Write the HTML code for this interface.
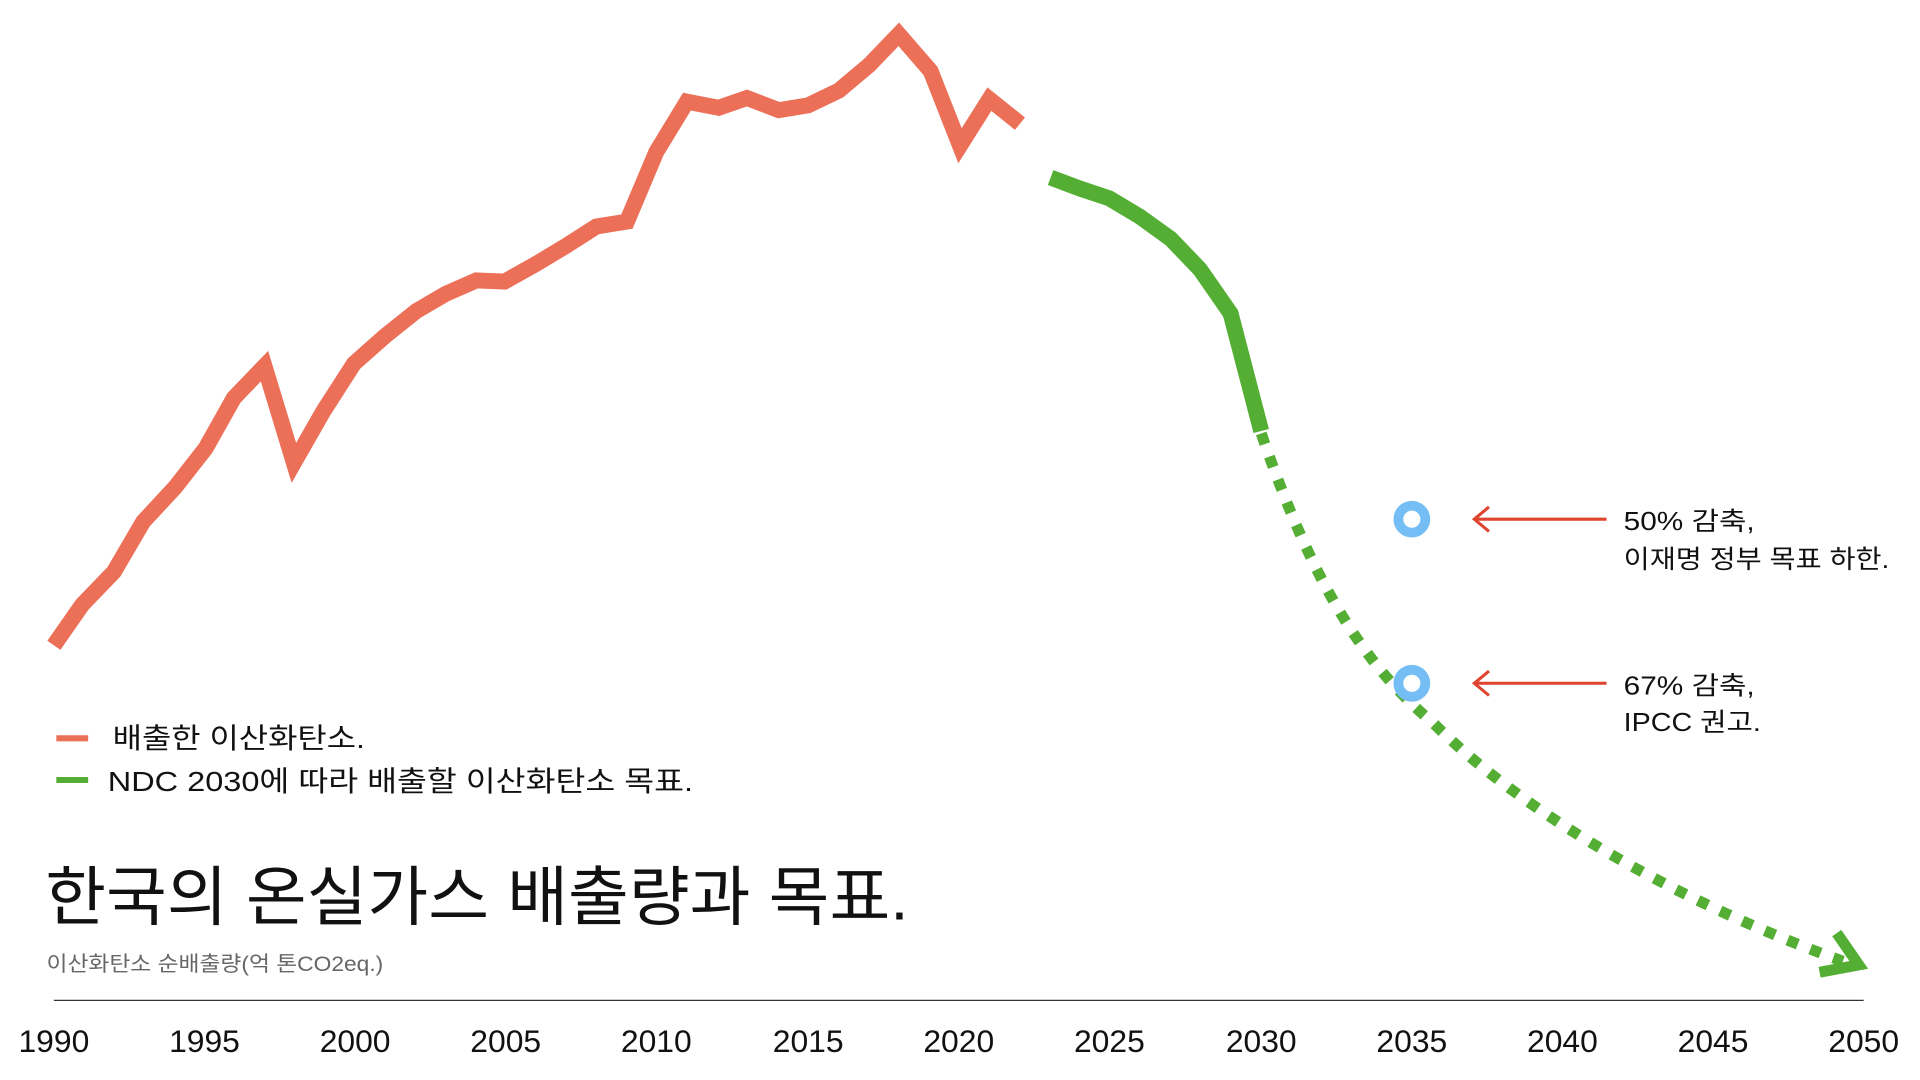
<!DOCTYPE html>
<html><head><meta charset="utf-8"><style>
html,body{margin:0;padding:0;background:#fff;}
svg{display:block;}
text{font-family:"Liberation Sans","Noto Sans CJK KR",sans-serif;}
</style></head><body>
<svg width="1920" height="1080" viewBox="0 0 1568 882" xmlns="http://www.w3.org/2000/svg">
<rect width="1568" height="882" fill="#fff"/>
<polyline fill="none" stroke="#ec6f58" stroke-width="13" stroke-linejoin="miter"
points="44,527 67,494 93,467 117,426 143,398 168,366 191,325 216,299 240,378 264,336 289,297 315,274 340,254 364,240 389,229 412,230 437,216 462,201 487,185 512,181 536,124 561,83 587,88 610,80 636,90 660,86 685,74 710,53 734,28 760,58 784,119 808,81 833,101"/>
<polyline fill="none" stroke="#54ae34" stroke-width="13"
points="858,145 882,154 906,162 931,177 956,195 980,220 1005,256 1030,352"/>
<path d="M1030,354 C1070,470 1110,540 1170,590 C1250,670 1380,740 1505,785" fill="none" stroke="#54ae34" stroke-width="9" stroke-dasharray="9 11"/>
<path d="M1500,762 L1518,788 L1486,794" fill="none" stroke="#54ae34" stroke-width="9"/>
<circle cx="1153" cy="424" r="11" fill="none" stroke="#74bdf5" stroke-width="8"/>
<circle cx="1153" cy="558" r="11" fill="none" stroke="#74bdf5" stroke-width="8"/>
<path d="M1206,424 L1312,424 M1216,414 L1204,424 L1216,434" fill="none" stroke="#e0442f" stroke-width="2.5"/>
<path d="M1206,558 L1312,558 M1216,548 L1204,558 L1216,568" fill="none" stroke="#e0442f" stroke-width="2.5"/>
<text x="1326" y="433" font-size="21" fill="#111" textLength="107" lengthAdjust="spacingAndGlyphs">50% 감축,</text>
<text x="1326" y="464" font-size="21" fill="#111" textLength="217" lengthAdjust="spacingAndGlyphs">이재명 정부 목표 하한.</text>
<text x="1326" y="567" font-size="21" fill="#111" textLength="107" lengthAdjust="spacingAndGlyphs">67% 감축,</text>
<text x="1326" y="597" font-size="21" fill="#111" textLength="112" lengthAdjust="spacingAndGlyphs">IPCC 권고.</text>
<line x1="46" y1="603" x2="72" y2="603" stroke="#ec6f58" stroke-width="5"/>
<text x="92" y="611" font-size="23" fill="#111" textLength="206" lengthAdjust="spacingAndGlyphs">배출한 이산화탄소.</text>
<line x1="46" y1="637" x2="72" y2="637" stroke="#54ae34" stroke-width="5"/>
<text x="88" y="646" font-size="23" fill="#111" textLength="478" lengthAdjust="spacingAndGlyphs">NDC 2030에 따라 배출할 이산화탄소 목표.</text>
<text x="37" y="751" font-size="53" fill="#111" textLength="705" lengthAdjust="spacingAndGlyphs">한국의 온실가스 배출량과 목표.</text>
<text x="38" y="793" font-size="17" fill="#666" textLength="275" lengthAdjust="spacingAndGlyphs">이산화탄소 순배출량(억 톤CO2eq.)</text>
<line x1="44" y1="817" x2="1522" y2="817" stroke="#333" stroke-width="1"/>
<g font-size="26" fill="#111" text-anchor="middle">
<text x="44" y="859">1990</text><text x="167" y="859">1995</text><text x="290" y="859">2000</text>
<text x="413" y="859">2005</text><text x="536" y="859">2010</text><text x="660" y="859">2015</text>
<text x="783" y="859">2020</text><text x="906" y="859">2025</text><text x="1030" y="859">2030</text>
<text x="1153" y="859">2035</text><text x="1276" y="859">2040</text><text x="1399" y="859">2045</text>
<text x="1522" y="859">2050</text>
</g>
</svg>
</body></html>
